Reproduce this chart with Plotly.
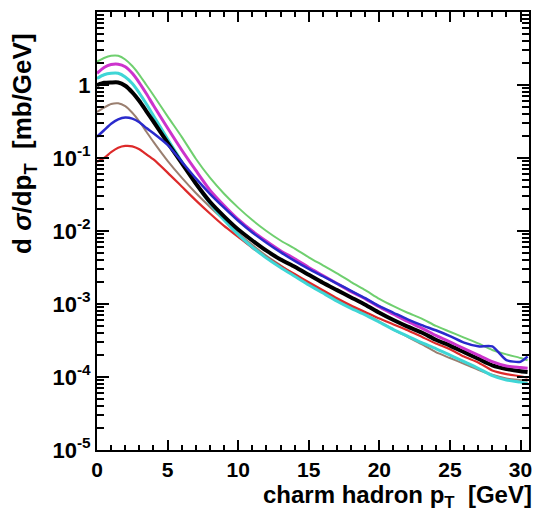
import numpy as np
import plotly.graph_objects as go

# transverse momentum grid [GeV]
pt = [0, 0.5, 1, 1.5, 2, 2.5, 3, 3.5, 4, 5, 6, 7, 8, 9, 10, 11, 12, 13, 14, 15,
      16, 17, 18, 19, 20, 21, 22, 23, 24, 25, 26, 27, 28, 29, 30, 30.5]

# log10 of dsigma/dpT [mb/GeV] for each curve
green = [0.32, 0.37, 0.40, 0.40, 0.35, 0.26, 0.14, 0.00, -0.14, -0.43, -0.71, -1.01, -1.27,
         -1.49, -1.68, -1.85, -2.00, -2.13, -2.24, -2.36, -2.47, -2.58, -2.70, -2.81, -2.93,
         -3.03, -3.12, -3.20, -3.30, -3.38, -3.46, -3.54, -3.63, -3.69, -3.74, -3.77]
magenta = [0.16, 0.24, 0.28, 0.285, 0.25, 0.16, 0.03, -0.12, -0.28, -0.59, -0.89, -1.17,
           -1.44, -1.65, -1.84, -2.00, -2.14, -2.27, -2.38, -2.50, -2.61, -2.72, -2.83,
           -2.93, -3.04, -3.14, -3.24, -3.33, -3.43, -3.52, -3.61, -3.70, -3.79, -3.85,
           -3.87, -3.88]
cyan = [0.09, 0.14, 0.16, 0.16, 0.11, 0.02, -0.11, -0.26, -0.42, -0.74, -1.05, -1.35, -1.62,
        -1.85, -2.05, -2.22, -2.37, -2.50, -2.62, -2.74, -2.85, -2.96, -3.06, -3.15, -3.25,
        -3.35, -3.44, -3.53, -3.61, -3.70, -3.79, -3.88, -3.98, -4.04, -4.07, -4.09]
black = [0.00, 0.03, 0.035, 0.035, -0.01, -0.10, -0.22, -0.36, -0.50, -0.79, -1.07, -1.35,
         -1.60, -1.80, -1.98, -2.13, -2.27, -2.39, -2.49, -2.60, -2.71, -2.81, -2.91, -3.01,
         -3.12, -3.22, -3.31, -3.39, -3.49, -3.57, -3.66, -3.75, -3.84, -3.89, -3.92, -3.93]
brown = [-0.37, -0.31, -0.26, -0.25, -0.29, -0.38, -0.50, -0.64, -0.78, -1.04, -1.27, -1.48,
         -1.67, -1.85, -2.03, -2.19, -2.34, -2.47, -2.60, -2.72, -2.83, -2.94, -3.04, -3.14,
         -3.24, -3.35, -3.45, -3.55, -3.66, -3.74, -3.82, -3.90, -3.97, -4.02, -4.04, -4.05]
blue = [-0.71, -0.62, -0.53, -0.47, -0.445, -0.46, -0.51, -0.59, -0.66, -0.82, -1.05, -1.28,
        -1.49, -1.68, -1.86, -2.02, -2.16, -2.29, -2.41, -2.52, -2.62, -2.72, -2.82, -2.92,
        -3.03, -3.12, -3.21, -3.29, -3.36, -3.44, -3.53, -3.58, -3.58, -3.77, -3.79, -3.72]
red = [-1.05, -1.00, -0.92, -0.86, -0.835, -0.84, -0.88, -0.95, -1.02, -1.20, -1.39, -1.58,
       -1.76, -1.93, -2.08, -2.23, -2.36, -2.48, -2.59, -2.70, -2.81, -2.92, -3.02, -3.11,
       -3.20, -3.28, -3.36, -3.45, -3.54, -3.62, -3.72, -3.80, -3.91, -3.96, -3.99, -4.01]

# y tick labels
ytick_vals = [1e-5, 1e-4, 1e-3, 1e-2, 1e-1, 1]
ytick_text = ["10<sup>-5</sup>", "10<sup>-4</sup>", "10<sup>-3</sup>",
              "10<sup>-2</sup>", "10<sup>-1</sup>", "1"]

curves = [
    (green, "#6fcf6f", 2.0),
    (brown, "#9a7f70", 2.0),
    (red, "#dd2a2a", 2.2),
    (cyan, "#3fd6d6", 3.0),
    (black, "#000000", 4.0),
    (magenta, "#cc33cc", 3.0),
    (blue, "#2a2acc", 2.5),
]

fig = go.Figure()
for logy, color, width in curves:
    fig.add_trace(go.Scatter(
        x=pt, y=np.power(10.0, logy), mode="lines",
        line=dict(color=color, width=width, shape="spline", smoothing=0.6),
        showlegend=False, hoverinfo="skip"))

family = "Liberation Sans, Arial, sans-serif"
xtick_font = dict(family=family, size=21, color="black", weight="bold")
ytick_font = dict(family=family, size=22, color="black", weight="bold")
title_font = dict(family=family, size=26, color="black", weight="bold")

minor_y = [m * 10.0 ** e for e in range(-5, 1) for m in range(2, 10)]

fig.update_layout(
    width=538, height=514,
    margin=dict(l=97, r=6, t=12, b=64),
    paper_bgcolor="white", plot_bgcolor="white",
    font=ytick_font,
    xaxis=dict(
        range=[0, 30.6], tickvals=[0, 5, 10, 15, 20, 25, 30],
        ticks="inside", ticklen=10, tickwidth=2, tickcolor="black",
        minor=dict(tickvals=[v for v in range(0, 31) if v % 5], ticks="inside",
                   ticklen=5, tickwidth=1.5, tickcolor="black"),
        showline=True, linewidth=2, linecolor="black", mirror="allticks",
        showgrid=False, zeroline=False, tickfont=xtick_font,
    ),
    yaxis=dict(
        type="log", range=[-5, 1], tickvals=ytick_vals, ticktext=ytick_text,
        ticks="inside", ticklen=12, tickwidth=2, tickcolor="black",
        minor=dict(tickvals=minor_y, ticks="inside", ticklen=7, tickwidth=1.5,
                   tickcolor="black"),
        showline=True, linewidth=2, linecolor="black", mirror="allticks",
        showgrid=False, zeroline=False, tickfont=ytick_font,
    ),
    annotations=[
        dict(text="d <i>σ</i>/dp<sub>T</sub>  [mb/GeV]", xref="paper", yref="paper",
             x=-0.17, y=0.7, textangle=-90, showarrow=False,
             xanchor="center", yanchor="middle", font=title_font),
        dict(text="charm hadron p<sub>T</sub>  [GeV]", xref="paper", yref="paper",
             x=1.012, y=-0.107, showarrow=False, xanchor="right", yanchor="middle",
             font=dict(family=family, size=24, color="black", weight="bold")),
    ],
)

fig.write_html("out.html")
